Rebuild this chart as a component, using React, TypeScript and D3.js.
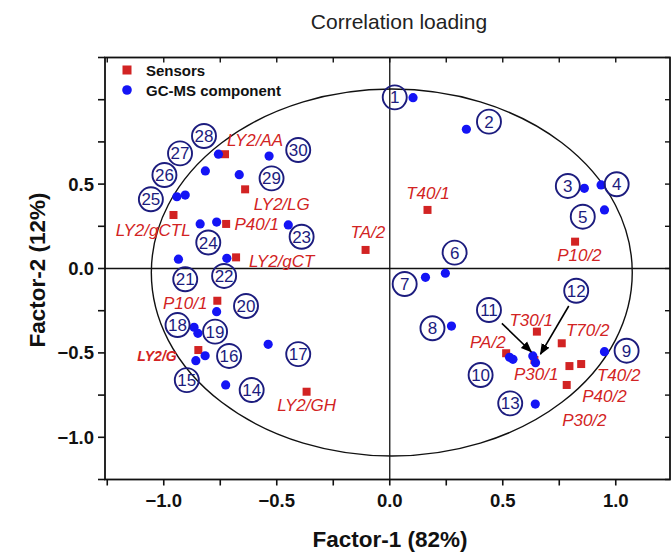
import React from 'react';
import * as d3 from 'd3';

// ---------- data ----------
const sensorNames = ['LY2/AA', 'LY2/LG', 'LY2/gCTL', 'P40/1', 'LY2/gCT', 'TA/2', 'P10/1', 'LY2/G', 'LY2/GH', 'T40/1', 'P10/2', 'PA/2', 'T30/1', 'T70/2', 'P40/2', 'T40/2', 'P30/2', 'P30/1'];
const sensorX = [-0.729, -0.640, -0.957, -0.724, -0.680, -0.107, -0.763, -0.847, -0.368, 0.167, 0.820, 0.515, 0.651, 0.761, 0.795, 0.847, 0.783, 0.640];
const sensorY = [0.677, 0.469, 0.317, 0.264, 0.066, 0.110, -0.191, -0.483, -0.730, 0.347, 0.159, -0.502, -0.374, -0.443, -0.578, -0.566, -0.690, -0.542];
const sensorLabelX = [-0.596, -0.478, -1.047, -0.589, -0.478, -0.097, -0.905, -1.030, -0.368, 0.169, 0.839, 0.434, 0.626, 0.876, 0.950, 1.013, 0.861, 0.648];
const sensorLabelY = [0.761, 0.382, 0.228, 0.264, 0.046, 0.218, -0.203, -0.512, -0.809, 0.446, 0.080, -0.434, -0.305, -0.364, -0.754, -0.631, -0.898, -0.625];

const gcmsX = [0.103, 0.339, 0.861, 0.935, 0.950, 0.246, 0.158, 0.273, 0.950, 0.530, 0.545, 0.633, 0.645, 0.644,
  -0.758, -0.816, -0.666, -0.534, -0.942, -0.905, -0.839, -0.766, -0.449, -0.935, -0.721, -0.766, -0.866, -0.849, -0.817, -0.858, -0.538, -0.726];
const gcmsY = [1.012, 0.825, 0.475, 0.495, 0.347, -0.028, -0.052, -0.341, -0.493, -0.526, -0.538, -0.518, -0.558, -0.803,
  0.677, 0.578, 0.556, 0.666, 0.425, 0.435, 0.264, 0.275, 0.258, 0.055, 0.060, -0.256, -0.348, -0.384, -0.517, -0.546, -0.449, -0.690];

const componentIds = ['1', '2', '3', '4', '5', '6', '7', '8', '9', '10', '11', '12', '13', '14', '15', '16', '17', '18', '19', '20', '21', '22', '23', '24', '25', '26', '27', '28', '29', '30'];
const componentLabelX = [0.022, 0.439, 0.788, 1.004, 0.854, 0.287, 0.066, 0.189, 1.048, 0.402, 0.439, 0.825, 0.533, -0.611, -0.898, -0.711, -0.405, -0.939, -0.773, -0.636, -0.905, -0.733, -0.390, -0.803, -1.057, -0.997, -0.928, -0.822, -0.523, -0.405];
const componentLabelY = [1.014, 0.870, 0.489, 0.499, 0.307, 0.094, -0.092, -0.354, -0.487, -0.631, -0.246, -0.132, -0.799, -0.720, -0.661, -0.518, -0.507, -0.335, -0.374, -0.222, -0.064, -0.044, 0.188, 0.154, 0.410, 0.554, 0.682, 0.785, 0.534, 0.702];

// arrows (from label 11 and 12 to their points)
const arrowFromX = [0.496, 0.792];
const arrowFromY = [-0.325, -0.222];
const arrowToX = [0.626, 0.667];
const arrowToY = [-0.493, -0.507];

// reference ellipse (correlation circle)
const circleCenter = [0.009, -0.024];
const circleRadius = [1.064, 1.087];

const minorTicks = [-1.25, -1.0, -0.75, -0.5, -0.25, 0, 0.25, 0.5, 0.75, 1.0, 1.25];
const xTickLabels = [-1.0, -0.5, 0.0, 0.5, 1.0];
const yTickLabels = [0.5, 0.0, -0.5, -1.0];

const title = 'Correlation loading';
const xTitle = 'Factor-1 (82%)';
const yTitle = 'Factor-2 (12%)';

const RED = '#d22323';
const BLUE = '#1414f5';
const NAVY = '#1c1c7e';
const FONT = '"Liberation Sans", Arial, Helvetica, sans-serif';

export default function App() {
  const W = 672, H = 553;
  const x = d3.scaleLinear().domain([-1.26, 1.24]).range([105, 670]);
  const y = d3.scaleLinear().domain([-1.25, 1.25]).range([479.5, 57.5]);
  const [x0, x1] = x.range();
  const [y0, y1] = [y.range()[1], y.range()[0]];
  const fmt = d3.format('.1f');

  const inX = (v: number) => v >= -1.26 && v <= 1.24;

  return (
    <svg width={W} height={H} style={{ position: 'absolute', left: 0, top: 0, background: '#fff' }} fontFamily={FONT}>
      <defs>
        <marker id="arr" viewBox="0 0 10 10" refX="9" refY="5" markerWidth="7" markerHeight="7" orient="auto">
          <path d="M0,1 L10,5 L0,9 Z" fill="#000" />
        </marker>
      </defs>
      <rect x={0} y={0} width={W} height={H} fill="#fff" />

      {/* title */}
      <text x={399} y={29} textAnchor="middle" fontSize={21} fill="#222">{title}</text>

      {/* correlation circle */}
      <ellipse cx={x(circleCenter[0])} cy={y(circleCenter[1])} rx={x(circleRadius[0]) - x(0)} ry={y(0) - y(circleRadius[1])}
        fill="none" stroke="#111" strokeWidth={1.4} />

      {/* zero lines */}
      <line x1={x(0)} x2={x(0)} y1={y0} y2={y1} stroke="#111" strokeWidth={1.3} />
      <line x1={x0} x2={x1} y1={y(0)} y2={y(0)} stroke="#111" strokeWidth={1.6} />

      {/* frame */}
      <rect x={x0} y={y0} width={x1 - x0} height={y1 - y0} fill="none" stroke="#111" strokeWidth={1.8} />

      {/* ticks */}
      {minorTicks.filter(inX).map((t) => (
        <g key={'xt' + t}>
          <line x1={x(t)} x2={x(t)} y1={y1} y2={y1 + 6} stroke="#111" strokeWidth={1.6} />
          <line x1={x(t)} x2={x(t)} y1={y0} y2={y0 + 5} stroke="#111" strokeWidth={1.4} />
        </g>
      ))}
      {minorTicks.map((t) => (
        <g key={'yt' + t}>
          <line x1={x0 - 7} x2={x0} y1={y(t)} y2={y(t)} stroke="#111" strokeWidth={1.6} />
          <line x1={x1 - 5} x2={x1} y1={y(t)} y2={y(t)} stroke="#111" strokeWidth={1.4} />
        </g>
      ))}
      {xTickLabels.map((t) => (
        <text key={'xl' + t} x={x(t)} y={y1 + 27} textAnchor="middle" fontSize={18.5} fontWeight="bold" fill="#111">{fmt(t)}</text>
      ))}
      {yTickLabels.map((t) => (
        <text key={'yl' + t} x={x0 - 11} y={y(t) + 6.5} textAnchor="end" fontSize={18.5} fontWeight="bold" fill="#111">{fmt(t)}</text>
      ))}

      {/* axis titles */}
      <text x={390} y={547} textAnchor="middle" fontSize={22.5} fontWeight="bold" fill="#111">{xTitle}</text>
      <text transform={`translate(45,270) rotate(-90)`} textAnchor="middle" fontSize={22.5} fontWeight="bold" fill="#111">{yTitle}</text>

      {/* sensors (red squares) */}
      {sensorX.map((v, i) => (
        <rect key={'s' + i} x={x(v) - 4} y={y(sensorY[i]) - 4} width={8} height={8} fill={RED} />
      ))}

      {/* GC-MS components (blue dots) */}
      {gcmsX.map((v, i) => (
        <circle key={'g' + i} cx={x(v)} cy={y(gcmsY[i])} r={4.6} fill={BLUE} />
      ))}

      {/* component number badges */}
      {componentIds.map((id, i) => (
        <g key={'c' + id}>
          <circle cx={x(componentLabelX[i])} cy={y(componentLabelY[i])} r={12} fill="none" stroke={NAVY} strokeWidth={1.9} />
          <text x={x(componentLabelX[i])} y={y(componentLabelY[i]) + 6} textAnchor="middle" fontSize={17} fill={NAVY}>{id}</text>
        </g>
      ))}

      {/* sensor labels */}
      {sensorNames.map((n, i) => (
        <text key={'sl' + n} x={x(sensorLabelX[i])} y={y(sensorLabelY[i]) + 6}
          textAnchor="middle" fontSize={n === 'LY2/G' ? 14 : 17} fontStyle="italic" fontWeight={n === 'LY2/G' ? 'bold' : 'normal'} fill={RED}>{n}</text>
      ))}

      {/* arrows */}
      {arrowFromX.map((v, i) => (
        <line key={'a' + i} x1={x(v)} y1={y(arrowFromY[i])} x2={x(arrowToX[i])} y2={y(arrowToY[i])}
          stroke="#000" strokeWidth={1.6} markerEnd="url(#arr)" />
      ))}

      {/* legend */}
      <rect x={122.5} y={65.5} width={9} height={9} fill={RED} />
      <text x={146} y={75.5} fontSize={15} fontWeight="bold" fill="#111">Sensors</text>
      <circle cx={127} cy={90} r={4.8} fill={BLUE} />
      <text x={146} y={95.5} fontSize={15} fontWeight="bold" fill="#111">GC-MS component</text>
    </svg>
  );
}
